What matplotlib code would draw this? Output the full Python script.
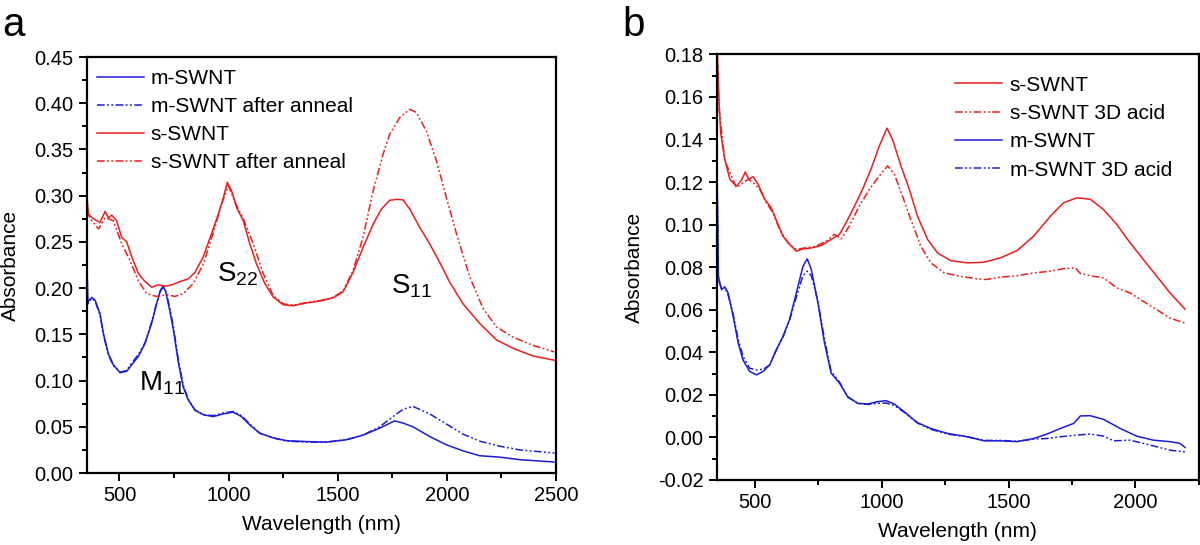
import matplotlib
matplotlib.use("Agg")
import matplotlib.pyplot as plt
from matplotlib.ticker import MultipleLocator, FormatStrFormatter

plt.rcParams['font.family'] = ['Liberation Sans', 'DejaVu Sans']
plt.rcParams['mathtext.fontset'] = 'custom'
plt.rcParams['mathtext.rm'] = 'Liberation Sans'
plt.rcParams['mathtext.it'] = 'Liberation Sans'

# ---- panel a: before / after anneal ----
a_m_wl = [350, 355, 373, 388, 411, 426, 449, 472, 503, 533, 556, 586, 617, 647, 670, 688, 700, 712, 730,
          747, 770, 792, 815, 846, 884, 930, 976, 1021, 1059, 1097, 1143, 1204, 1265, 1357, 1448, 1540,
          1616, 1692, 1761, 1799, 1845, 1921, 1998, 2074, 2150, 2242, 2334, 2493]
a_m_abs = [0.235, 0.185, 0.190, 0.187, 0.172, 0.151, 0.129, 0.117, 0.1085, 0.110, 0.117, 0.126, 0.140, 0.162,
           0.183, 0.198, 0.202, 0.196, 0.176, 0.155, 0.119, 0.093, 0.079, 0.068, 0.063, 0.061, 0.064, 0.0658,
           0.061, 0.052, 0.043, 0.038, 0.035, 0.034, 0.0334, 0.036, 0.041, 0.0485, 0.0564, 0.054, 0.050,
           0.0395, 0.0305, 0.024, 0.0187, 0.0172, 0.0144, 0.0119]

a_m_ann_wl = [350, 355, 373, 388, 411, 426, 449, 472, 503, 533, 556, 586, 617, 647, 670, 688, 700, 712, 730,
              747, 770, 792, 815, 846, 884, 930, 976, 1021, 1059, 1097, 1143, 1204, 1265, 1357, 1448, 1540,
              1616, 1692, 1753, 1800, 1845, 1921, 1998, 2074, 2150, 2242, 2334, 2493]
a_m_ann_abs = [0.23, 0.183, 0.189, 0.186, 0.171, 0.150, 0.128, 0.116, 0.109, 0.111, 0.119, 0.128, 0.141, 0.163,
               0.184, 0.197, 0.201, 0.197, 0.179, 0.158, 0.122, 0.095, 0.080, 0.068, 0.063, 0.062, 0.065, 0.0665,
               0.062, 0.053, 0.043, 0.038, 0.0345, 0.0335, 0.0335, 0.036, 0.041, 0.050, 0.061, 0.069, 0.072,
               0.064, 0.053, 0.042, 0.0345, 0.029, 0.025, 0.0216]

a_s_wl = [350, 358, 381, 411, 434, 449, 464, 487, 510, 533, 556, 586, 617, 647, 678, 708, 739, 777, 815, 846,
          884, 922, 953, 976, 994, 1014, 1037, 1067, 1097, 1128, 1166, 1204, 1250, 1296, 1357, 1418, 1479, 1525,
          1570, 1616, 1662, 1700, 1738, 1769, 1799, 1830, 1875, 1921, 1967, 2013, 2074, 2150, 2227, 2303, 2395, 2493]
a_s_abs = [0.300, 0.280, 0.275, 0.271, 0.283, 0.276, 0.279, 0.273, 0.255, 0.250, 0.234, 0.216, 0.207, 0.201,
           0.2035, 0.202, 0.2035, 0.207, 0.210, 0.217, 0.234, 0.259, 0.280, 0.298, 0.3145, 0.305, 0.287, 0.273,
           0.248, 0.226, 0.205, 0.1905, 0.182, 0.181, 0.184, 0.186, 0.1895, 0.196, 0.217, 0.244, 0.269, 0.2855,
           0.295, 0.296, 0.2955, 0.2855, 0.266, 0.248, 0.228, 0.2065, 0.183, 0.162, 0.144, 0.135, 0.1265, 0.122]

a_s_ann_wl = [350, 366, 404, 434, 472, 510, 548, 586, 625, 670, 716, 754, 792, 838, 884, 930, 968, 999, 1029,
              1067, 1113, 1159, 1204, 1250, 1296, 1357, 1418, 1479, 1525, 1570, 1616, 1662, 1708, 1738, 1784,
              1830, 1860, 1906, 1952, 1998, 2044, 2105, 2166, 2227, 2303, 2395, 2493]
a_s_ann_abs = [0.284, 0.275, 0.264, 0.276, 0.273, 0.248, 0.230, 0.208, 0.194, 0.191, 0.193, 0.191, 0.194, 0.205,
               0.226, 0.260, 0.291, 0.311, 0.293, 0.275, 0.248, 0.2155, 0.192, 0.183, 0.1815, 0.1845, 0.1865, 0.19,
               0.197, 0.219, 0.255, 0.305, 0.345, 0.3665, 0.3845, 0.3935, 0.390, 0.370, 0.338, 0.298, 0.259,
               0.212, 0.178, 0.158, 0.147, 0.138, 0.131]

# ---- panel b: 3D acid ----
b_s_wl = [350, 359, 366, 382, 402, 428, 448, 463, 476, 494, 513, 539, 565, 592, 611, 637, 664, 690, 723, 762,
          801, 834, 860, 893, 925, 958, 991, 1021, 1043, 1076, 1109, 1141, 1181, 1220, 1272, 1338, 1403, 1469,
          1534, 1599, 1665, 1717, 1770, 1822, 1874, 1927, 1979, 2031, 2084, 2136, 2195]
b_s_abs = [0.19, 0.159, 0.143, 0.1307, 0.1213, 0.118, 0.121, 0.1247, 0.1213, 0.1225, 0.119, 0.1119, 0.108,
           0.100, 0.0946, 0.0907, 0.0875, 0.0886, 0.089, 0.0902, 0.093, 0.0954, 0.1009, 0.1087, 0.1166, 0.126,
           0.137, 0.1453, 0.140, 0.1276, 0.1166, 0.104, 0.093, 0.0867, 0.0831, 0.082, 0.0823, 0.0844, 0.0878,
           0.0946, 0.104, 0.1103, 0.1126, 0.1119, 0.1071, 0.100, 0.0914, 0.0836, 0.0757, 0.0679, 0.0603]

b_s_acid_wl = [350, 359, 382, 428, 454, 474, 494, 520, 546, 572, 598, 631, 664, 696, 736, 782, 814, 841, 873,
               912, 952, 991, 1024, 1050, 1082, 1115, 1154, 1194, 1246, 1311, 1377, 1410, 1469, 1534, 1599, 1665,
               1717, 1763, 1783, 1835, 1874, 1927, 1979, 2031, 2084, 2136, 2195]
b_s_acid_abs = [0.19, 0.155, 0.130, 0.1174, 0.1197, 0.1213, 0.1197, 0.1166, 0.1103, 0.1056, 0.0977, 0.0914,
                0.0883, 0.089, 0.0896, 0.0922, 0.0954, 0.0933, 0.0993, 0.1087, 0.1166, 0.1229, 0.1276, 0.1237,
                0.1134, 0.1024, 0.0899, 0.082, 0.0773, 0.0757, 0.0745, 0.0742, 0.0753, 0.076, 0.0773, 0.0781,
                0.0793, 0.0797, 0.077, 0.0757, 0.075, 0.0702, 0.0679, 0.0639, 0.060, 0.0561, 0.0537]

b_m_wl = [350, 357, 369, 382, 395, 415, 435, 454, 480, 507, 533, 559, 585, 611, 637, 664, 690, 707, 723, 749,
          775, 801, 834, 866, 906, 945, 984, 1017, 1050, 1089, 1141, 1194, 1259, 1338, 1403, 1469, 1534, 1599,
          1652, 1704, 1757, 1783, 1822, 1874, 1940, 2005, 2071, 2136, 2175, 2195]
b_m_abs = [0.14, 0.0757, 0.0694, 0.0707, 0.0679, 0.0569, 0.0443, 0.0364, 0.031, 0.0294, 0.031, 0.0341, 0.0412,
           0.0474, 0.0553, 0.0679, 0.0804, 0.0839, 0.0789, 0.0632, 0.0443, 0.0302, 0.0255, 0.0192, 0.016, 0.0157,
           0.0168, 0.0173, 0.0157, 0.0121, 0.0069, 0.0042, 0.0019, 0.0003, -0.0016, -0.0016, -0.002, -0.0005,
           0.0016, 0.0042, 0.0066, 0.0101, 0.0102, 0.0085, 0.0042, 0.0006, -0.0013, -0.002, -0.0028, -0.0047]

b_m_acid_wl = [350, 357, 369, 382, 395, 415, 435, 454, 480, 507, 533, 559, 585, 611, 637, 664, 690, 707, 723,
               749, 775, 801, 834, 866, 906, 945, 984, 1017, 1050, 1089, 1141, 1194, 1259, 1338, 1403, 1469, 1534,
               1599, 1652, 1704, 1770, 1822, 1874, 1914, 1979, 2031, 2084, 2136, 2195]
b_m_acid_abs = [0.135, 0.074, 0.070, 0.0705, 0.067, 0.058, 0.046, 0.038, 0.0325, 0.0317, 0.032, 0.034, 0.041,
                0.047, 0.055, 0.066, 0.076, 0.0781, 0.076, 0.064, 0.046, 0.031, 0.026, 0.019, 0.016, 0.0155,
                0.016, 0.0162, 0.015, 0.0118, 0.0068, 0.0038, 0.0016, 0.0003, -0.0014, -0.0014, -0.0018,
                -0.0008, -0.0005, 0.0003, 0.0011, 0.0016, 0.0006, -0.0016, -0.0013, -0.0028, -0.0044, -0.006,
                -0.0068]

RED = '#ee1c1c'
BLUE = '#1c1cd8'
DDOT = (0, (5, 1.6, 1.2, 1.6, 1.2, 1.6))
LW = 1.1


def style_axes(ax, ymajor, yminor, fmt):
    for sp in ax.spines.values():
        sp.set_linewidth(1.6)
    ax.xaxis.set_major_locator(MultipleLocator(500))
    ax.xaxis.set_minor_locator(MultipleLocator(250))
    ax.yaxis.set_major_locator(MultipleLocator(ymajor))
    ax.yaxis.set_minor_locator(MultipleLocator(yminor))
    ax.yaxis.set_major_formatter(FormatStrFormatter(fmt))
    ax.tick_params(which='both', direction='out', top=False, right=False, width=1.4, labelsize=14.5, pad=4)
    ax.tick_params(which='major', length=5.5)
    ax.tick_params(which='minor', length=3.5)
    ax.set_xlabel('Wavelength (nm)', fontsize=15)
    ax.set_ylabel('Absorbance', fontsize=15)


fig = plt.figure(figsize=(12, 5.45), dpi=100)

# panel a
ax1 = fig.add_axes([0.0723, 0.1321, 0.391, 0.7633])
ax1.plot(a_m_wl, a_m_abs, color=BLUE, lw=LW, label='m-SWNT')
ax1.plot(a_m_ann_wl, a_m_ann_abs, color=BLUE, lw=LW, ls=DDOT, label='m-SWNT after anneal')
ax1.plot(a_s_wl, a_s_abs, color=RED, lw=LW, label='s-SWNT')
ax1.plot(a_s_ann_wl, a_s_ann_abs, color=RED, lw=LW, ls=DDOT, label='s-SWNT after anneal')
ax1.set_xlim(350, 2500)
ax1.set_ylim(0, 0.45)
style_axes(ax1, 0.05, 0.025, '%.2f')
ax1.xaxis.set_label_coords(0.5, -0.101)
ax1.yaxis.set_label_coords(-0.142, 0.5)
ax1.legend(loc='upper left', bbox_to_anchor=(0.0213, 0.971), frameon=False, fontsize=15,
           handlelength=2.25, handletextpad=0.35, labelspacing=0.43, borderpad=0, borderaxespad=0)
ax1.text(945, 0.207, r'S$_{22}$', fontsize=20)
ax1.text(1746, 0.194, r'S$_{11}$', fontsize=20)
ax1.text(591, 0.089, r'M$_{11}$', fontsize=20)

# panel b
ax2 = fig.add_axes([0.5972, 0.1193, 0.4019, 0.781])
ax2.plot(b_s_wl, b_s_abs, color=RED, lw=LW, label='s-SWNT')
ax2.plot(b_s_acid_wl, b_s_acid_abs, color=RED, lw=LW, ls=DDOT, label='s-SWNT 3D acid')
ax2.plot(b_m_wl, b_m_abs, color=BLUE, lw=LW, label='m-SWNT')
ax2.plot(b_m_acid_wl, b_m_acid_abs, color=BLUE, lw=LW, ls=DDOT, label='m-SWNT 3D acid')
ax2.set_xlim(350, 2250)
ax2.set_ylim(-0.02, 0.18)
style_axes(ax2, 0.02, 0.01, '%.2f')
ax2.xaxis.set_label_coords(0.5, -0.099)
ax2.yaxis.set_label_coords(-0.151, 0.5)
ax2.legend(loc='upper left', bbox_to_anchor=(0.495, 0.95), frameon=False, fontsize=15,
           handlelength=2.25, handletextpad=0.35, labelspacing=0.45, borderpad=0, borderaxespad=0)

fig.text(0.002, 0.934, 'a', fontsize=29, va='baseline')
fig.text(0.519, 0.934, 'b', fontsize=29, va='baseline')

fig.savefig('out.png', dpi=100)
